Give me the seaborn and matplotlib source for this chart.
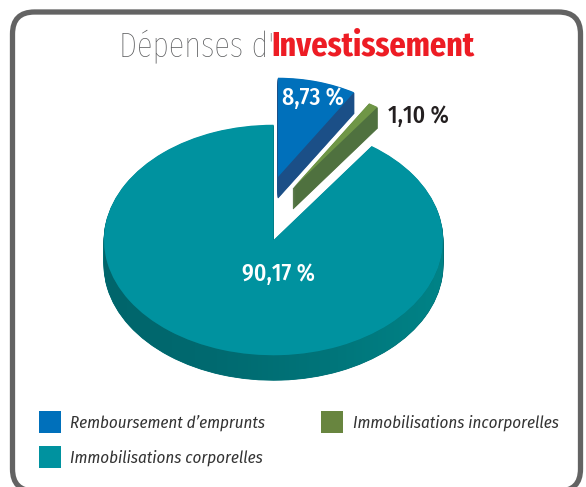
import matplotlib
matplotlib.use("Agg")
import matplotlib.pyplot as plt
import numpy as np
import seaborn as sns
from matplotlib.colors import LinearSegmentedColormap
from matplotlib.patches import FancyBboxPatch, Polygon

sns.set_theme(style="white")
plt.rcParams['font.family'] = ['Fira Sans Condensed', 'DejaVu Sans']

# values as printed on the chart, same order as the wedges go round
categories = ["Immobilisations corporelles", "Immobilisations incorporelles", "Remboursement d’emprunts"]
values = [90.17, 1.10, 8.73]

title_light = "Dépenses d'"
title_bold = "Investissement"

top_colors = ["#00929f", "#6f9646", "#0070bb"]
side_colors = ["#006f75", "#4f713f", "#1b4f87"]
legend_colors = ["#00929f", "#68853f", "#0070bb"]
wall_shades = ["#00656b", "#006a70", "#00757a", "#008387"]
legend_order = [2, 0, 1]

W, H = 586, 487
SQUASH = 0.68  # ellipse height / width


def yd(py):
    # picture row -> data y, the y axis is stretched to flatten the pie
    return (H - py) / SQUASH


def slice_pie(ax, i, cx, py, radius, color, edge=False):
    colors = [color if j == i else "none" for j in range(len(values))]
    wedges, _ = ax.pie(values, startangle=90, colors=colors, center=(cx, yd(py)),
                       radius=radius, wedgeprops=dict(linewidth=0))
    if edge:
        wedges[i].set(edgecolor=color, linewidth=0.6)
    return wedges[i]


fig = plt.figure(figsize=(W / 100, H / 100), dpi=100, facecolor="white")
ax = fig.add_axes([0, 0, 1, 1])

# one centre per slice, the two small ones pulled out
slices = [
    dict(cx=273.5, py=240, radius=169.5, depth=25),
    dict(cx=293, py=188, radius=146, depth=21),
    dict(cx=278, py=177, radius=146, depth=21),
]

handles = []
for i, s in enumerate(slices):
    for d in range(s["depth"], 0, -1):
        slice_pie(ax, i, s["cx"], s["py"] + d, s["radius"], side_colors[i], edge=True)
    top = slice_pie(ax, i, s["cx"], s["py"], s["radius"], top_colors[i])
    top.set_zorder(3)
    handles.append(top)

# shading on the big wall, dark left to lighter right
main = slices[0]
t = np.linspace(np.pi, 2 * np.pi, 120)
ex = main["cx"] + main["radius"] * np.cos(t)
ey = yd(main["py"]) + main["radius"] * np.sin(t)
drop = main["depth"] / SQUASH
wall = Polygon(np.r_[np.c_[ex, ey], np.c_[ex[::-1], ey[::-1] - drop]], transform=ax.transData,
               fc="none", ec="none")
ax.add_patch(wall)
img = ax.imshow(np.linspace(0, 1, 256)[None, :], cmap=LinearSegmentedColormap.from_list("wall", wall_shades),
                extent=(ex.min(), ex.max(), ey.min() - drop, ey.max()), aspect="auto", zorder=2)
img.set_clip_path(wall)

ax.set_aspect("auto")
ax.set_xlim(0, W)
ax.set_ylim(0, H / SQUASH)
ax.axis("off")

frame = FancyBboxPatch((12.5, yd(491)), 568, 479 / SQUASH, transform=ax.transData,
                       boxstyle="round,pad=0,rounding_size=22", mutation_aspect=1 / SQUASH,
                       fc="none", ec="#636363", lw=3.8, clip_on=False)
ax.add_patch(frame)

ax.text(119, yd(56), title_light, fontsize=25.5, color="#58595b", fontweight="light",
        family=['Fira Sans Extra Condensed', 'DejaVu Sans'], ha="left", va="baseline")
ax.text(271, yd(56), title_bold, fontsize=25, color="#ed1c24", fontweight="bold",
        family=['Fira Sans Extra Condensed', 'DejaVu Sans'], ha="left", va="baseline")

labels = [f"{v:.2f} %".replace(".", ",") for v in values]
ax.text(279, yd(274), labels[0], fontsize=17, color="white", fontweight="medium", ha="center", va="center")
ax.text(418, yd(116), labels[1], fontsize=17, color="#231f20", fontweight="medium", ha="center", va="center")
ax.text(313, yd(98), labels[2], fontsize=17, color="white", fontweight="medium", ha="center", va="center")

leg = ax.legend([handles[i] for i in legend_order], [categories[i] for i in legend_order],
                ncol=2, loc="upper left", bbox_to_anchor=(25.5 / W, 1 - 397.5 / H), frameon=False,
                prop=dict(size=12.2, style="italic"), labelcolor="#333333",
                handlelength=1.28, handleheight=1.6, handletextpad=0.57,
                labelspacing=0.8, columnspacing=3.3, borderpad=0.3)
for patch, i in zip(leg.get_patches(), legend_order):
    patch.set_facecolor(legend_colors[i])

fig.savefig("out.png", dpi=100, facecolor="white")
